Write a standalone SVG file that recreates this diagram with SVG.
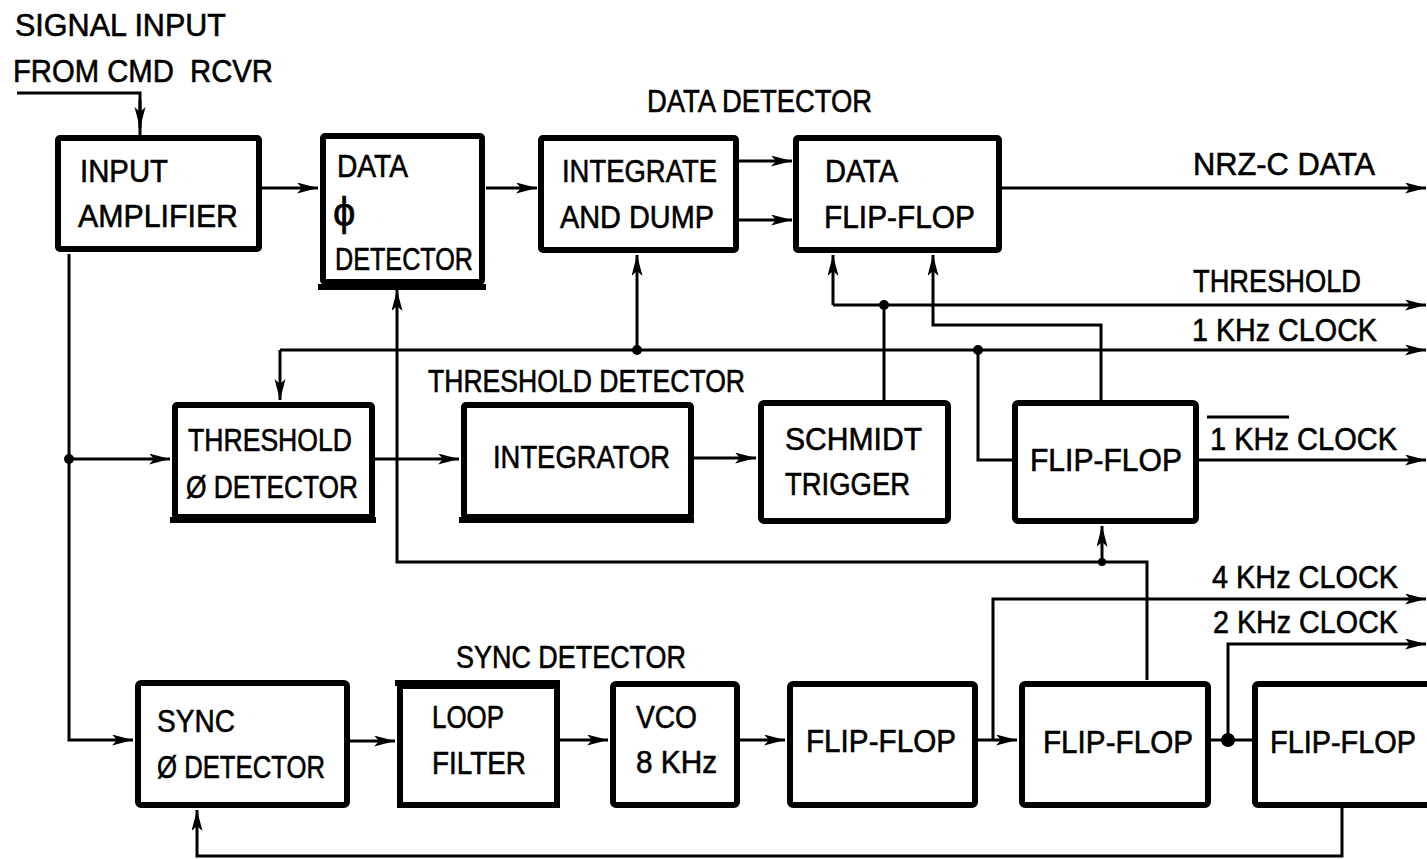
<svg xmlns="http://www.w3.org/2000/svg" width="1427" height="859" viewBox="0 0 1427 859">
<style>
text{font-family:"Liberation Sans","DejaVu Sans",sans-serif;font-size:32px;fill:#000;stroke:#000;stroke-width:0.6;white-space:pre}
.box{fill:#fff;stroke:#000;stroke-width:6}
.ul{stroke:#000;stroke-width:6;fill:none}
.c{fill:none;stroke:#000;stroke-width:3}
.a{fill:none;stroke:#000;stroke-width:3;marker-end:url(#ah)}
.dot{fill:#000}
</style>
<defs>
<marker id="ah" markerUnits="userSpaceOnUse" markerWidth="24" markerHeight="12" refX="21" refY="5.5" orient="auto">
<path d="M0,0 L21,5.5 L0,11 L5,5.5 Z" fill="#000"/>
</marker>
</defs>
<rect width="1427" height="859" fill="#fff"/>

<g id="labels">
<text x="15" y="36" textLength="211" lengthAdjust="spacingAndGlyphs">SIGNAL INPUT</text>
<text x="13" y="82" textLength="260" lengthAdjust="spacingAndGlyphs">FROM CMD  RCVR</text>
<text x="647" y="112" textLength="225" lengthAdjust="spacingAndGlyphs">DATA DETECTOR</text>
<text x="428" y="392" textLength="317" lengthAdjust="spacingAndGlyphs">THRESHOLD DETECTOR</text>
<text x="456" y="668" textLength="230" lengthAdjust="spacingAndGlyphs">SYNC DETECTOR</text>
<text x="1193" y="175" textLength="182" lengthAdjust="spacingAndGlyphs">NRZ-C DATA</text>
<text x="1193" y="292" textLength="168" lengthAdjust="spacingAndGlyphs">THRESHOLD</text>
<text x="1192" y="341" textLength="185" lengthAdjust="spacingAndGlyphs">1 KHz CLOCK</text>
<text x="1210" y="450" textLength="187" lengthAdjust="spacingAndGlyphs">1 KHz CLOCK</text>
<line x1="1207" y1="417" x2="1289" y2="417" stroke="#000" stroke-width="3"/>
<text x="1212" y="588" textLength="186" lengthAdjust="spacingAndGlyphs">4 KHz CLOCK</text>
<text x="1213" y="633" textLength="185" lengthAdjust="spacingAndGlyphs">2 KHz CLOCK</text>
</g>

<g id="connectors">
<path class="c" d="M17,93 H140 V135"/>
<path class="a" d="M140,100 V128"/>
<path class="a" d="M262,188 H318"/>
<path class="a" d="M486,188 H537"/>
<path class="a" d="M739,161 H792"/>
<path class="a" d="M739,220 H792"/>
<path class="a" d="M1002,188 H1426"/>
<path class="a" d="M69,254 V740 H133"/>
<path class="a" d="M69,459 H170"/>
<path class="a" d="M375,459 H459"/>
<path class="a" d="M694,458 H756"/>
<path class="c" d="M884,400 V305"/>
<path class="a" d="M833,305 H1426"/>
<path class="a" d="M833,305 V255"/>
<path class="a" d="M1101,400 V325 H933 V255"/>
<path class="a" d="M280,350 H1426"/>
<path class="a" d="M280,350 V400"/>
<path class="a" d="M637,350 V255"/>
<path class="c" d="M978,350 V460 H1012"/>
<path class="a" d="M1199,460 H1426"/>
<path class="a" d="M1147,680 V562 H397 V290"/>
<path class="a" d="M1102,562 V526"/>
<path class="a" d="M350,741 H395"/>
<path class="a" d="M560,740 H608"/>
<path class="a" d="M740,740 H785"/>
<path class="a" d="M978,740 H1017"/>
<path class="a" d="M993,740 V599 H1426"/>
<path class="c" d="M1211,740 H1252"/>
<path class="a" d="M1228,740 V644 H1426"/>
<path class="a" d="M1342,808 V856 H197 V810"/>
<circle class="dot" cx="69" cy="459" r="5"/>
<circle class="dot" cx="637" cy="350" r="5"/>
<circle class="dot" cx="884" cy="305" r="5"/>
<circle class="dot" cx="978" cy="350" r="5"/>
<circle class="dot" cx="1102" cy="562" r="4"/>
<circle class="dot" cx="1228" cy="740" r="7"/>
</g>

<g id="input-amplifier">
<rect class="box" x="58" y="138" width="201" height="111" rx="2"/>
<text x="80" y="182" textLength="88" lengthAdjust="spacingAndGlyphs">INPUT</text>
<text x="78" y="227" textLength="160" lengthAdjust="spacingAndGlyphs">AMPLIFIER</text>
</g>

<g id="data-phase-detector">
<rect class="box" x="323" y="136" width="159" height="146" rx="2"/>
<line class="ul" x1="318" y1="287" x2="486" y2="287"/>
<text x="337" y="177" textLength="71" lengthAdjust="spacingAndGlyphs">DATA</text>
<text x="333" y="226" style="font-size:40px">ϕ</text>
<text x="335" y="270" textLength="138" lengthAdjust="spacingAndGlyphs">DETECTOR</text>
</g>

<g id="integrate-and-dump">
<rect class="box" x="541" y="138" width="195" height="112" rx="2"/>
<text x="562" y="182" textLength="155" lengthAdjust="spacingAndGlyphs">INTEGRATE</text>
<text x="560" y="228" textLength="154" lengthAdjust="spacingAndGlyphs">AND DUMP</text>
</g>

<g id="data-flip-flop">
<rect class="box" x="796" y="138" width="203" height="112" rx="2"/>
<text x="825" y="182" textLength="73" lengthAdjust="spacingAndGlyphs">DATA</text>
<text x="824" y="228" textLength="151" lengthAdjust="spacingAndGlyphs">FLIP-FLOP</text>
</g>

<g id="threshold-phase-detector">
<rect class="box" x="175" y="405" width="197" height="112" rx="2"/>
<line class="ul" x1="170" y1="520" x2="376" y2="520"/>
<text x="188" y="451" textLength="164" lengthAdjust="spacingAndGlyphs">THRESHOLD</text>
<text x="186" y="498" textLength="172" lengthAdjust="spacingAndGlyphs">Ø DETECTOR</text>
</g>

<g id="integrator">
<rect class="box" x="464" y="405" width="227" height="112" rx="2"/>
<line class="ul" x1="459" y1="520" x2="694" y2="520"/>
<text x="493" y="468" textLength="177" lengthAdjust="spacingAndGlyphs">INTEGRATOR</text>
</g>

<g id="schmidt-trigger">
<rect class="box" x="761" y="403" width="187" height="118" rx="3"/>
<text x="785" y="450" textLength="137" lengthAdjust="spacingAndGlyphs">SCHMIDT</text>
<text x="785" y="495" textLength="125" lengthAdjust="spacingAndGlyphs">TRIGGER</text>
</g>

<g id="flip-flop-1khz">
<rect class="box" x="1015" y="403" width="181" height="118" rx="3"/>
<text x="1030" y="471" textLength="152" lengthAdjust="spacingAndGlyphs">FLIP-FLOP</text>
</g>

<g id="sync-phase-detector">
<rect class="box" x="138" y="683" width="209" height="122" rx="3"/>
<text x="157" y="732" textLength="78" lengthAdjust="spacingAndGlyphs">SYNC</text>
<text x="157" y="778" textLength="168" lengthAdjust="spacingAndGlyphs">Ø DETECTOR</text>
</g>

<g id="loop-filter">
<rect class="box" x="400" y="686" width="157" height="119"/>
<line class="ul" x1="395" y1="683" x2="560" y2="683"/>
<text x="432" y="728" textLength="72" lengthAdjust="spacingAndGlyphs">LOOP</text>
<text x="432" y="774" textLength="94" lengthAdjust="spacingAndGlyphs">FILTER</text>
</g>

<g id="vco">
<rect class="box" x="613" y="684" width="124" height="121" rx="3"/>
<text x="636" y="728" textLength="61" lengthAdjust="spacingAndGlyphs">VCO</text>
<text x="636" y="773" textLength="81" lengthAdjust="spacingAndGlyphs">8 KHz</text>
</g>

<g id="flip-flop-a">
<rect class="box" x="790" y="684" width="185" height="121" rx="3"/>
<text x="806" y="752" textLength="150" lengthAdjust="spacingAndGlyphs">FLIP-FLOP</text>
</g>

<g id="flip-flop-b">
<rect class="box" x="1022" y="684" width="186" height="121" rx="3"/>
<text x="1043" y="753" textLength="150" lengthAdjust="spacingAndGlyphs">FLIP-FLOP</text>
</g>

<g id="flip-flop-c">
<rect class="box" x="1255" y="684" width="200" height="121" rx="3"/>
<text x="1270" y="753" textLength="146" lengthAdjust="spacingAndGlyphs">FLIP-FLOP</text>
</g>
</svg>
